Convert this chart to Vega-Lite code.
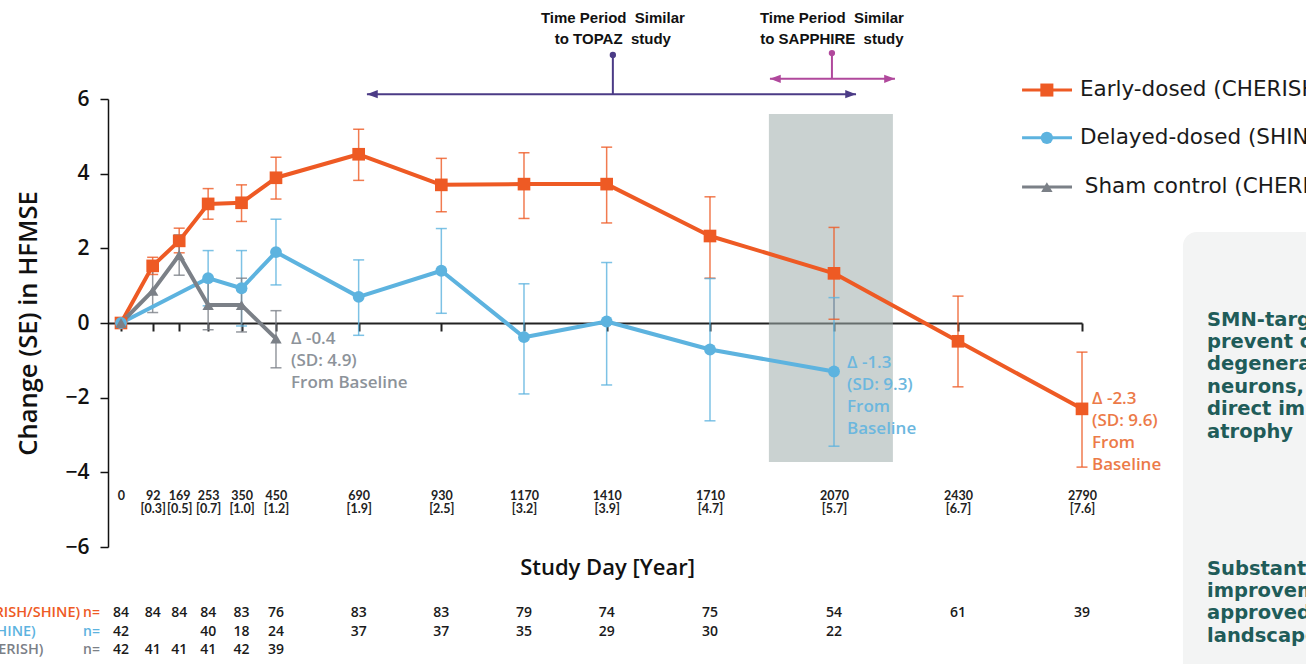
{
  "$schema": "https://vega.github.io/schema/vega-lite/v6.json",
  "width": 974,
  "height": 448,
  "autosize": {"type": "none"},
  "padding": {"left": 108, "top": 99, "right": 224, "bottom": 117},
  "background": "white",
  "config": {"view": {"stroke": null}, "axis": {"grid": false}, "legend": {"disable": true}},
  "datasets": {
    "series": [
      {"group": "Early-dosed (CHERISH/SHINE)", "day": 0, "mean": 0, "lo": 0, "hi": 0},
      {"group": "Early-dosed (CHERISH/SHINE)", "day": 92, "mean": 1.53, "lo": 1.3, "hi": 1.76},
      {"group": "Early-dosed (CHERISH/SHINE)", "day": 169, "mean": 2.2, "lo": 1.88, "hi": 2.54},
      {"group": "Early-dosed (CHERISH/SHINE)", "day": 253, "mean": 3.19, "lo": 2.78, "hi": 3.6},
      {"group": "Early-dosed (CHERISH/SHINE)", "day": 350, "mean": 3.22, "lo": 2.72, "hi": 3.7},
      {"group": "Early-dosed (CHERISH/SHINE)", "day": 450, "mean": 3.89, "lo": 3.32, "hi": 4.44},
      {"group": "Early-dosed (CHERISH/SHINE)", "day": 690, "mean": 4.52, "lo": 3.82, "hi": 5.19},
      {"group": "Early-dosed (CHERISH/SHINE)", "day": 930, "mean": 3.7, "lo": 2.98, "hi": 4.41},
      {"group": "Early-dosed (CHERISH/SHINE)", "day": 1170, "mean": 3.72, "lo": 2.8, "hi": 4.56},
      {"group": "Early-dosed (CHERISH/SHINE)", "day": 1410, "mean": 3.72, "lo": 2.68, "hi": 4.71},
      {"group": "Early-dosed (CHERISH/SHINE)", "day": 1710, "mean": 2.33, "lo": 1.2, "hi": 3.38},
      {"group": "Early-dosed (CHERISH/SHINE)", "day": 2070, "mean": 1.33, "lo": 0.1, "hi": 2.56},
      {"group": "Early-dosed (CHERISH/SHINE)", "day": 2430, "mean": -0.49, "lo": -1.71, "hi": 0.72},
      {"group": "Early-dosed (CHERISH/SHINE)", "day": 2790, "mean": -2.3, "lo": -3.86, "hi": -0.78},
      {"group": "Delayed-dosed (SHINE)", "day": 0, "mean": 0, "lo": 0, "hi": 0},
      {"group": "Delayed-dosed (SHINE)", "day": 253, "mean": 1.2, "lo": 0.46, "hi": 1.94},
      {"group": "Delayed-dosed (SHINE)", "day": 350, "mean": 0.93, "lo": -0.08, "hi": 1.94},
      {"group": "Delayed-dosed (SHINE)", "day": 450, "mean": 1.9, "lo": 1.02, "hi": 2.78},
      {"group": "Delayed-dosed (SHINE)", "day": 690, "mean": 0.7, "lo": -0.33, "hi": 1.69},
      {"group": "Delayed-dosed (SHINE)", "day": 930, "mean": 1.4, "lo": 0.26, "hi": 2.53},
      {"group": "Delayed-dosed (SHINE)", "day": 1170, "mean": -0.38, "lo": -1.9, "hi": 1.05},
      {"group": "Delayed-dosed (SHINE)", "day": 1410, "mean": 0.04, "lo": -1.66, "hi": 1.62},
      {"group": "Delayed-dosed (SHINE)", "day": 1710, "mean": -0.71, "lo": -2.62, "hi": 1.19},
      {"group": "Delayed-dosed (SHINE)", "day": 2070, "mean": -1.3, "lo": -3.3, "hi": 0.68},
      {"group": "Sham control (CHERISH)", "day": 0, "mean": 0, "lo": 0, "hi": 0},
      {"group": "Sham control (CHERISH)", "day": 92, "mean": 0.86, "lo": 0.28, "hi": 1.42},
      {"group": "Sham control (CHERISH)", "day": 169, "mean": 1.82, "lo": 1.28, "hi": 2.36},
      {"group": "Sham control (CHERISH)", "day": 253, "mean": 0.48, "lo": -0.18, "hi": 1.14},
      {"group": "Sham control (CHERISH)", "day": 350, "mean": 0.48, "lo": -0.24, "hi": 1.2},
      {"group": "Sham control (CHERISH)", "day": 450, "mean": -0.42, "lo": -1.2, "hi": 0.33}
    ],
    "counts": [
      {"group": "Early-dosed (CHERISH/SHINE)", "day": 0, "n": 84},
      {"group": "Early-dosed (CHERISH/SHINE)", "day": 92, "n": 84},
      {"group": "Early-dosed (CHERISH/SHINE)", "day": 169, "n": 84},
      {"group": "Early-dosed (CHERISH/SHINE)", "day": 253, "n": 84},
      {"group": "Early-dosed (CHERISH/SHINE)", "day": 350, "n": 83},
      {"group": "Early-dosed (CHERISH/SHINE)", "day": 450, "n": 76},
      {"group": "Early-dosed (CHERISH/SHINE)", "day": 690, "n": 83},
      {"group": "Early-dosed (CHERISH/SHINE)", "day": 930, "n": 83},
      {"group": "Early-dosed (CHERISH/SHINE)", "day": 1170, "n": 79},
      {"group": "Early-dosed (CHERISH/SHINE)", "day": 1410, "n": 74},
      {"group": "Early-dosed (CHERISH/SHINE)", "day": 1710, "n": 75},
      {"group": "Early-dosed (CHERISH/SHINE)", "day": 2070, "n": 54},
      {"group": "Early-dosed (CHERISH/SHINE)", "day": 2430, "n": 61},
      {"group": "Early-dosed (CHERISH/SHINE)", "day": 2790, "n": 39},
      {"group": "Delayed-dosed (SHINE)", "day": 0, "n": 42},
      {"group": "Delayed-dosed (SHINE)", "day": 253, "n": 40},
      {"group": "Delayed-dosed (SHINE)", "day": 350, "n": 18},
      {"group": "Delayed-dosed (SHINE)", "day": 450, "n": 24},
      {"group": "Delayed-dosed (SHINE)", "day": 690, "n": 37},
      {"group": "Delayed-dosed (SHINE)", "day": 930, "n": 37},
      {"group": "Delayed-dosed (SHINE)", "day": 1170, "n": 35},
      {"group": "Delayed-dosed (SHINE)", "day": 1410, "n": 29},
      {"group": "Delayed-dosed (SHINE)", "day": 1710, "n": 30},
      {"group": "Delayed-dosed (SHINE)", "day": 2070, "n": 22},
      {"group": "Sham control (CHERISH)", "day": 0, "n": 42},
      {"group": "Sham control (CHERISH)", "day": 92, "n": 41},
      {"group": "Sham control (CHERISH)", "day": 169, "n": 41},
      {"group": "Sham control (CHERISH)", "day": 253, "n": 41},
      {"group": "Sham control (CHERISH)", "day": 350, "n": 42},
      {"group": "Sham control (CHERISH)", "day": 450, "n": 39}
    ],
    "groups": [
      {"group": "Early-dosed (CHERISH/SHINE)"},
      {"group": "Delayed-dosed (SHINE)"},
      {"group": "Sham control (CHERISH)"}
    ]
  },
  "layer": [
    {
      "data": {"values": [{}]},
      "mark": {"type": "rect", "fill": "#9fadab", "opacity": 0.55},
      "encoding": {"x": {"datum": 1881}, "x2": {"datum": 2241}, "y": {"datum": 5.6}, "y2": {"datum": -3.72}}
    },
    {
      "data": {"name": "series"},
      "transform": [{"filter": "datum.day > 0"}],
      "layer": [
        {
          "mark": {"type": "rule", "strokeWidth": 1.5, "opacity": 0.8},
          "encoding": {
            "x": {"field": "day", "type": "quantitative"},
            "y": {"field": "lo", "type": "quantitative"},
            "y2": {"field": "hi"},
            "color": {"field": "group", "type": "nominal"}
          }
        },
        {
          "mark": {"type": "tick", "orient": "horizontal", "size": 11, "thickness": 1.5, "opacity": 0.8},
          "encoding": {
            "x": {"field": "day", "type": "quantitative"},
            "y": {"field": "lo", "type": "quantitative"},
            "color": {"field": "group", "type": "nominal"}
          }
        },
        {
          "mark": {"type": "tick", "orient": "horizontal", "size": 11, "thickness": 1.5, "opacity": 0.8},
          "encoding": {
            "x": {"field": "day", "type": "quantitative"},
            "y": {"field": "hi", "type": "quantitative"},
            "color": {"field": "group", "type": "nominal"}
          }
        }
      ]
    },
    {
      "data": {"name": "series"},
      "mark": {"type": "line", "strokeJoin": "round"},
      "encoding": {
        "x": {
          "field": "day", "type": "quantitative",
          "scale": {"domain": [-37.7, 2790], "nice": false, "zero": false},
          "axis": {
            "orient": "bottom", "offset": -224,
            "values": [0, 92, 169, 253, 350, 450, 690, 930, 1170, 1410, 1710, 2070, 2430, 2790],
            "labelExpr": "datum.value === 0 ? '0' : [format(datum.value, 'd'), '[' + format(datum.value / 365.25, '.1f') + ']']",
            "title": "Study Day [Year]",
            "grid": false,
            "domainColor": "#222", "domainWidth": 1.8,
            "tickColor": "#222", "tickWidth": 2, "tickSize": 8,
            "labelPadding": 158, "labelBaseline": "top",
            "labelFont": "Lato", "labelFontSize": 12.5, "labelFontWeight": "bold", "labelColor": "#222",
            "labelLineHeight": 13.5, "labelOverlap": false, "labelFlush": false, "labelBound": false,
            "titleFont": "Open Sans", "titleFontSize": 22, "titleFontWeight": 600, "titleColor": "#111",
            "titlePadding": 42, "titleX": 499
          }
        },
        "y": {
          "field": "mean", "type": "quantitative",
          "scale": {"domain": [-6, 6], "nice": false, "zero": false},
          "axis": {
            "values": [-6, -4, -2, 0, 2, 4, 6],
            "title": "Change (SE) in HFMSE",
            "grid": false,
            "domainColor": "#111", "domainWidth": 1.5,
            "tickColor": "#111", "tickWidth": 1.5, "tickSize": 8,
            "labelFont": "Open Sans", "labelFontSize": 21, "labelFontWeight": 600, "labelColor": "#111", "labelPadding": 11,
            "titleFont": "Open Sans", "titleFontSize": 25.5, "titleFontWeight": 600, "titleColor": "#111", "titlePadding": 23
          }
        },
        "color": {
          "field": "group", "type": "nominal",
          "scale": {
            "domain": ["Early-dosed (CHERISH/SHINE)", "Delayed-dosed (SHINE)", "Sham control (CHERISH)"],
            "range": ["#ee5a24", "#5db3df", "#7b8087"]
          }
        },
        "strokeWidth": {
          "field": "group", "type": "nominal",
          "scale": {"domain": ["Early-dosed (CHERISH/SHINE)", "Delayed-dosed (SHINE)", "Sham control (CHERISH)"], "range": [4, 4, 3]}
        }
      }
    },
    {
      "data": {"name": "series"},
      "transform": [{"filter": "datum.group === 'Early-dosed (CHERISH/SHINE)'"}],
      "mark": {"type": "point", "filled": true, "opacity": 1, "size": 160, "shape": "square"},
      "encoding": {
        "x": {"field": "day", "type": "quantitative"},
        "y": {"field": "mean", "type": "quantitative"},
        "color": {"field": "group", "type": "nominal"}
      }
    },
    {
      "data": {"name": "series"},
      "transform": [{"filter": "datum.group === 'Delayed-dosed (SHINE)'"}],
      "mark": {"type": "point", "filled": true, "opacity": 1, "size": 140, "shape": "circle"},
      "encoding": {
        "x": {"field": "day", "type": "quantitative"},
        "y": {"field": "mean", "type": "quantitative"},
        "color": {"field": "group", "type": "nominal"}
      }
    },
    {
      "data": {"name": "series"},
      "transform": [{"filter": "datum.group === 'Sham control (CHERISH)'"}],
      "mark": {"type": "point", "filled": true, "opacity": 1, "size": 130, "shape": "triangle-up"},
      "encoding": {
        "x": {"field": "day", "type": "quantitative"},
        "y": {"field": "mean", "type": "quantitative"},
        "color": {"field": "group", "type": "nominal"}
      }
    },
    {
      "data": {"values": [{}]},
      "layer": [
        {"mark": {"type": "text", "align": "left", "baseline": "top", "dx": 15, "dy": -7, "lineHeight": 22, "font": "Open Sans", "fontSize": 17, "fontWeight": 600, "color": "#8d939a", "text": ["Δ -0.4", "(SD: 4.9)", "From Baseline"]},
         "encoding": {"x": {"datum": 450}, "y": {"datum": -0.4}}},
        {"mark": {"type": "text", "align": "left", "baseline": "top", "dx": 13, "dy": -17, "lineHeight": 22, "font": "Open Sans", "fontSize": 17, "fontWeight": 600, "color": "#6cb7de", "text": ["Δ -1.3", "(SD: 9.3)", "From", "Baseline"]},
         "encoding": {"x": {"datum": 2070}, "y": {"datum": -1.3}}},
        {"mark": {"type": "text", "align": "left", "baseline": "top", "dx": 10, "dy": -18, "lineHeight": 22, "font": "Open Sans", "fontSize": 17, "fontWeight": 600, "color": "#ec7a48", "text": ["Δ -2.3", "(SD: 9.6)", "From", "Baseline"]},
         "encoding": {"x": {"datum": 2790}, "y": {"datum": -2.3}}},
        {"mark": {"type": "rule", "color": "#4b3b86", "strokeWidth": 2},
         "encoding": {"x": {"datum": 714}, "x2": {"datum": 2134}, "y": {"datum": 6.13}}},
        {"mark": {"type": "rule", "color": "#4b3b86", "strokeWidth": 2},
         "encoding": {"x": {"datum": 1428}, "y": {"datum": 6.13}, "y2": {"datum": 7.18}}},
        {"mark": {"type": "point", "filled": true, "opacity": 1, "color": "#4b3b86", "size": 40, "shape": "circle"},
         "encoding": {"x": {"datum": 1428}, "y": {"datum": 7.18}}},
        {"mark": {"type": "point", "filled": true, "opacity": 1, "color": "#4b3b86", "size": 144, "shape": "M0,0L1.8,-0.7L1.8,0.7Z"},
         "encoding": {"x": {"datum": 714}, "y": {"datum": 6.13}}},
        {"mark": {"type": "point", "filled": true, "opacity": 1, "color": "#4b3b86", "size": 144, "shape": "M0,0L-1.8,-0.7L-1.8,0.7Z"},
         "encoding": {"x": {"datum": 2134}, "y": {"datum": 6.13}}},
        {"mark": {"type": "rule", "color": "#b0489c", "strokeWidth": 2},
         "encoding": {"x": {"datum": 1884}, "x2": {"datum": 2247}, "y": {"datum": 6.54}}},
        {"mark": {"type": "rule", "color": "#b0489c", "strokeWidth": 2},
         "encoding": {"x": {"datum": 2064}, "y": {"datum": 6.54}, "y2": {"datum": 7.23}}},
        {"mark": {"type": "point", "filled": true, "opacity": 1, "color": "#b0489c", "size": 40, "shape": "circle"},
         "encoding": {"x": {"datum": 2064}, "y": {"datum": 7.23}}},
        {"mark": {"type": "point", "filled": true, "opacity": 1, "color": "#b0489c", "size": 144, "shape": "M0,0L1.8,-0.7L1.8,0.7Z"},
         "encoding": {"x": {"datum": 1884}, "y": {"datum": 6.54}}},
        {"mark": {"type": "point", "filled": true, "opacity": 1, "color": "#b0489c", "size": 144, "shape": "M0,0L-1.8,-0.7L-1.8,0.7Z"},
         "encoding": {"x": {"datum": 2247}, "y": {"datum": 6.54}}},
        {"mark": {"type": "text", "align": "center", "baseline": "top", "lineHeight": 21, "font": "Liberation Sans", "fontSize": 15, "fontWeight": "bold", "color": "#111", "text": ["Time Period\u00a0 Similar", "to TOPAZ\u00a0 study"]},
         "encoding": {"x": {"datum": 1428}, "y": {"datum": 8.36}}},
        {"mark": {"type": "text", "align": "center", "baseline": "top", "lineHeight": 21, "font": "Liberation Sans", "fontSize": 15, "fontWeight": "bold", "color": "#111", "text": ["Time Period\u00a0 Similar", "to SAPPHIRE\u00a0 study"]},
         "encoding": {"x": {"datum": 2064}, "y": {"datum": 8.36}}},
        {"mark": {"type": "rect", "fill": "#f3f4f4", "cornerRadius": 14},
         "encoding": {"x": {"datum": 3083}, "x2": {"datum": 3700}, "y": {"datum": 2.44}, "y2": {"datum": -10}}},
        {"mark": {"type": "text", "align": "left", "baseline": "top", "lineHeight": 22.4, "font": "DejaVu Sans", "fontSize": 19.5, "fontWeight": "bold", "color": "#1f5c59", "text": ["SMN-targeted therapies", "prevent or slow", "degeneration of motor", "neurons, but have no", "direct impact on muscle", "atrophy"]},
         "encoding": {"x": {"datum": 3153}, "y": {"datum": 0.33}}},
        {"mark": {"type": "text", "align": "left", "baseline": "top", "lineHeight": 22.4, "font": "DejaVu Sans", "fontSize": 19.5, "fontWeight": "bold", "color": "#1f5c59", "text": ["Substantial room for", "improvement over", "approved therapies in the", "landscape"]},
         "encoding": {"x": {"datum": 3153}, "y": {"datum": -6.34}}}
      ]
    },
    {
      "data": {"name": "counts"},
      "transform": [{"filter": "datum.group === 'Early-dosed (CHERISH/SHINE)'"}],
      "mark": {"type": "text", "align": "center", "baseline": "middle", "font": "Open Sans", "fontSize": 14, "fontWeight": 600, "color": "#1a1a1a"},
      "encoding": {"x": {"field": "day", "type": "quantitative"}, "y": {"datum": -7.77}, "text": {"field": "n"}}
    },
    {
      "data": {"name": "counts"},
      "transform": [{"filter": "datum.group === 'Delayed-dosed (SHINE)'"}],
      "mark": {"type": "text", "align": "center", "baseline": "middle", "font": "Open Sans", "fontSize": 14, "fontWeight": 600, "color": "#1a1a1a"},
      "encoding": {"x": {"field": "day", "type": "quantitative"}, "y": {"datum": -8.28}, "text": {"field": "n"}}
    },
    {
      "data": {"name": "counts"},
      "transform": [{"filter": "datum.group === 'Sham control (CHERISH)'"}],
      "mark": {"type": "text", "align": "center", "baseline": "middle", "font": "Open Sans", "fontSize": 14, "fontWeight": 600, "color": "#1a1a1a"},
      "encoding": {"x": {"field": "day", "type": "quantitative"}, "y": {"datum": -8.76}, "text": {"field": "n"}}
    },
    {
      "data": {"name": "groups"},
      "transform": [{"filter": "datum.group === 'Early-dosed (CHERISH/SHINE)'"}],
      "layer": [
        {"mark": {"type": "text", "align": "left", "baseline": "middle", "font": "Open Sans", "fontSize": 14.5, "fontWeight": 600},
         "encoding": {"x": {"datum": -710}, "y": {"datum": -7.77}, "text": {"field": "group"}, "color": {"field": "group", "type": "nominal"}}},
        {"mark": {"type": "text", "align": "left", "baseline": "middle", "font": "Open Sans", "fontSize": 14, "fontWeight": 600, "text": "n="},
         "encoding": {"x": {"datum": -110}, "y": {"datum": -7.77}, "color": {"field": "group", "type": "nominal"}}},
        {"mark": {"type": "rule", "strokeWidth": 3},
         "encoding": {"x": {"datum": 2616}, "x2": {"datum": 2761}, "y": {"datum": 6.24}, "color": {"field": "group", "type": "nominal"}}},
        {"mark": {"type": "point", "filled": true, "opacity": 1, "size": 170, "shape": "square"},
         "encoding": {"x": {"datum": 2688}, "y": {"datum": 6.24}, "color": {"field": "group", "type": "nominal"}}},
        {"mark": {"type": "text", "align": "left", "baseline": "middle", "font": "DejaVu Sans", "fontSize": 21.5, "color": "#1a1a1a"},
         "encoding": {"x": {"datum": 2784}, "y": {"datum": 6.24}, "text": {"field": "group"}}}
      ]
    },
    {
      "data": {"name": "groups"},
      "transform": [{"filter": "datum.group === 'Delayed-dosed (SHINE)'"}],
      "layer": [
        {"mark": {"type": "text", "align": "left", "baseline": "middle", "font": "Open Sans", "fontSize": 14.5, "fontWeight": 600},
         "encoding": {"x": {"datum": -710}, "y": {"datum": -8.28}, "text": {"field": "group"}, "color": {"field": "group", "type": "nominal"}}},
        {"mark": {"type": "text", "align": "left", "baseline": "middle", "font": "Open Sans", "fontSize": 14, "fontWeight": 600, "text": "n="},
         "encoding": {"x": {"datum": -110}, "y": {"datum": -8.28}, "color": {"field": "group", "type": "nominal"}}},
        {"mark": {"type": "rule", "strokeWidth": 3},
         "encoding": {"x": {"datum": 2616}, "x2": {"datum": 2761}, "y": {"datum": 4.96}, "color": {"field": "group", "type": "nominal"}}},
        {"mark": {"type": "point", "filled": true, "opacity": 1, "size": 150, "shape": "circle"},
         "encoding": {"x": {"datum": 2688}, "y": {"datum": 4.96}, "color": {"field": "group", "type": "nominal"}}},
        {"mark": {"type": "text", "align": "left", "baseline": "middle", "font": "DejaVu Sans", "fontSize": 21.5, "color": "#1a1a1a"},
         "encoding": {"x": {"datum": 2784}, "y": {"datum": 4.96}, "text": {"field": "group"}}}
      ]
    },
    {
      "data": {"name": "groups"},
      "transform": [{"filter": "datum.group === 'Sham control (CHERISH)'"}],
      "layer": [
        {"mark": {"type": "text", "align": "left", "baseline": "middle", "font": "Open Sans", "fontSize": 14.5, "fontWeight": 600},
         "encoding": {"x": {"datum": -710}, "y": {"datum": -8.76}, "text": {"field": "group"}, "color": {"field": "group", "type": "nominal"}}},
        {"mark": {"type": "text", "align": "left", "baseline": "middle", "font": "Open Sans", "fontSize": 14, "fontWeight": 600, "text": "n="},
         "encoding": {"x": {"datum": -110}, "y": {"datum": -8.76}, "color": {"field": "group", "type": "nominal"}}},
        {"mark": {"type": "rule", "strokeWidth": 3},
         "encoding": {"x": {"datum": 2616}, "x2": {"datum": 2761}, "y": {"datum": 3.64}, "color": {"field": "group", "type": "nominal"}}},
        {"mark": {"type": "point", "filled": true, "opacity": 1, "size": 130, "shape": "triangle-up"},
         "encoding": {"x": {"datum": 2688}, "y": {"datum": 3.64}, "color": {"field": "group", "type": "nominal"}}},
        {"mark": {"type": "text", "align": "left", "baseline": "middle", "font": "DejaVu Sans", "fontSize": 21.5, "color": "#1a1a1a"},
         "encoding": {"x": {"datum": 2798}, "y": {"datum": 3.64}, "text": {"field": "group"}}}
      ]
    }
  ]
}
